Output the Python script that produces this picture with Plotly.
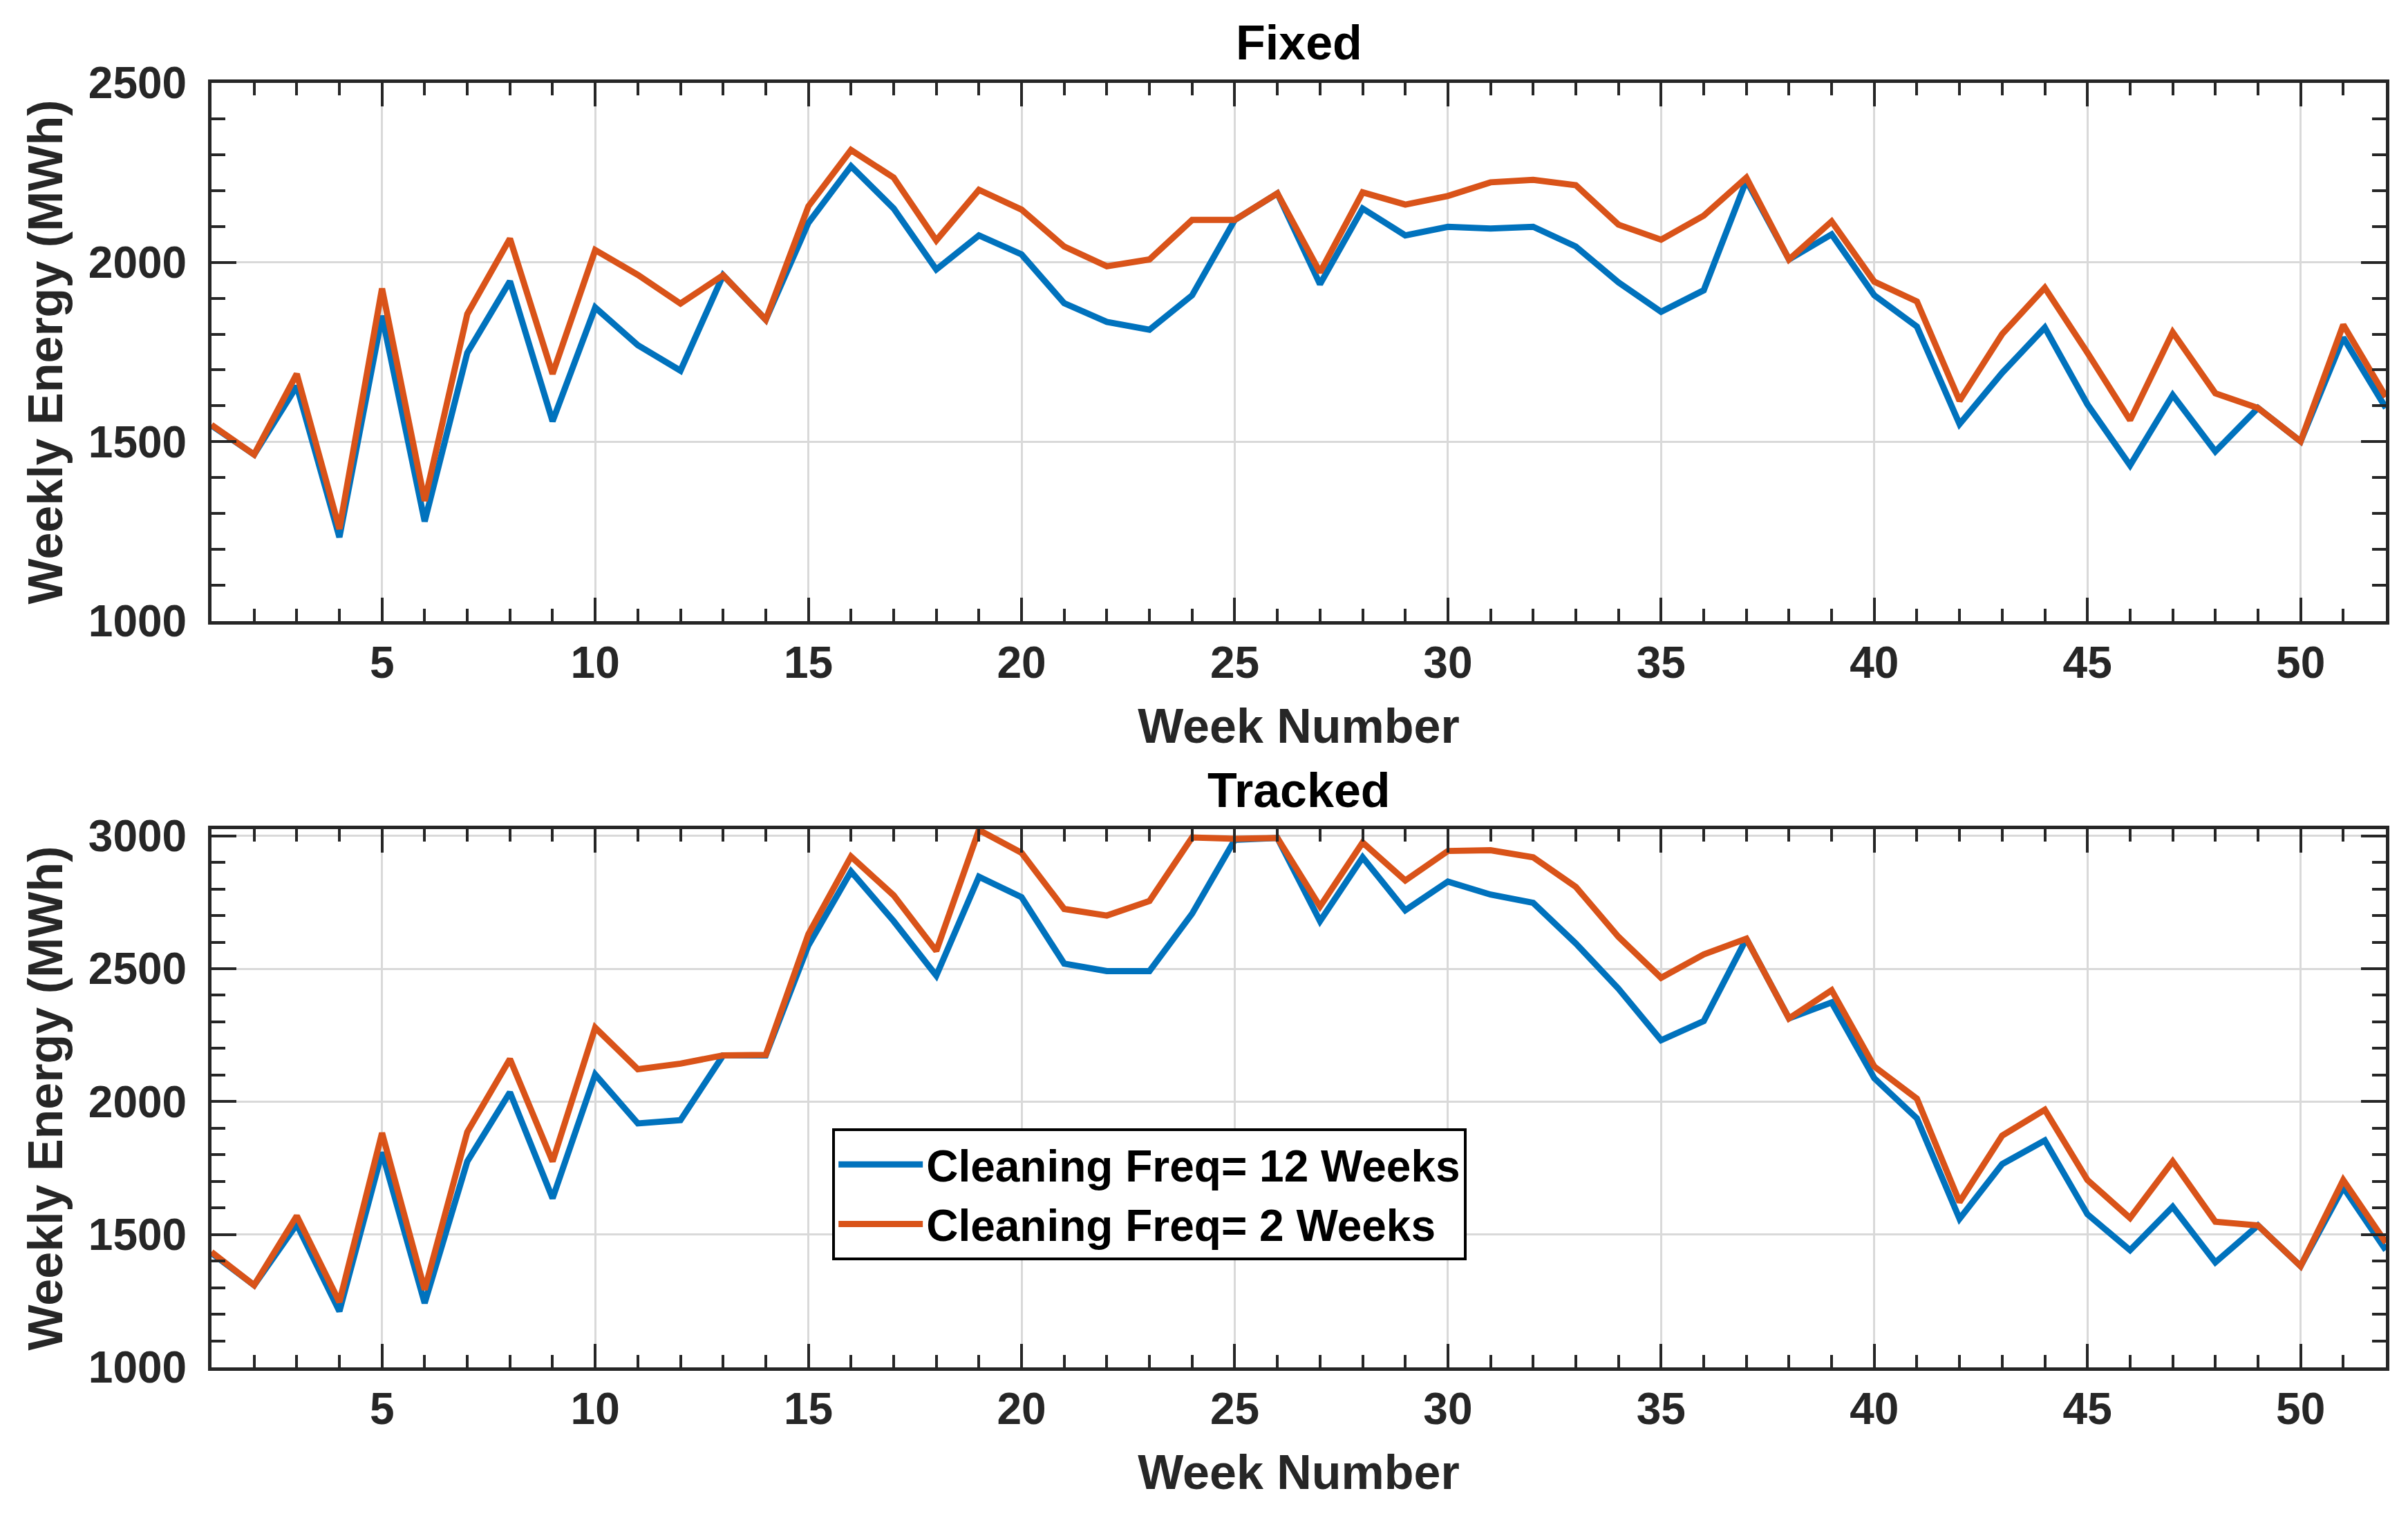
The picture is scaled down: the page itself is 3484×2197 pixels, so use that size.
import plotly.graph_objects as go

weeks = list(range(1, 53))

fixed_12 = [1545, 1464, 1655, 1234, 1851, 1278, 1748, 1947, 1557, 1874,
            1769, 1698, 1964, 1840, 2110, 2268, 2150, 1980, 2075, 2022,
            1886, 1834, 1812, 1908, 2118, 2192, 1939, 2150, 2075, 2099,
            2094, 2099, 2044, 1944, 1862, 1922, 2228, 2008, 2078, 1908,
            1821, 1549, 1692, 1818, 1604, 1434, 1630, 1473, 1594, 1501,
            1790, 1594]
fixed_2 = [1547, 1464, 1689, 1257, 1927, 1335, 1856, 2066, 1689, 2034,
           1965, 1885, 1964, 1840, 2156, 2313, 2236, 2061, 2202, 2147,
           2044, 1989, 2008, 2118, 2118, 2192, 1972, 2195, 2161, 2185,
           2223, 2230, 2215, 2105, 2063, 2130, 2236, 2008, 2114, 1946,
           1891, 1614, 1800, 1929, 1748, 1560, 1805, 1635, 1594, 1501,
           1826, 1625]
tracked_12 = [1430, 1309, 1538, 1211, 1809, 1242, 1775, 2035, 1636, 2102,
              1918, 1930, 2174, 2174, 2588, 2866, 2679, 2474, 2846, 2769,
              2519, 2491, 2491, 2707, 2985, 2992, 2679, 2919, 2720, 2828,
              2779, 2748, 2595, 2425, 2231, 2303, 2613, 2313, 2373, 2088,
              1937, 1559, 1765, 1854, 1576, 1441, 1604, 1395, 1534, 1381,
              1677, 1441]
tracked_2 = [1434, 1309, 1570, 1246, 1882, 1292, 1886, 2160, 1775, 2278,
             2122, 2143, 2174, 2176, 2630, 2922, 2776, 2567, 3022, 2936,
             2725, 2700, 2755, 2994, 2989, 2992, 2734, 2975, 2832, 2943,
             2946, 2919, 2808, 2620, 2466, 2554, 2613, 2313, 2419, 2132,
             2011, 1622, 1872, 1969, 1705, 1562, 1775, 1548, 1534, 1381,
             1705, 1469]

x_ticks = [5, 10, 15, 20, 25, 30, 35, 40, 45, 50]
panel_titles = ["Fixed", "Tracked"]
series_names = ["Cleaning Freq= 12 Weeks", "Cleaning Freq= 2 Weeks"]

BLUE = "#0072BD"
ORANGE = "#D95319"
FONT = "Liberation Sans, Arial, sans-serif"
TXT = "#262626"
LW = 9

fig = go.Figure()
fig.add_trace(go.Scatter(x=weeks, y=fixed_12, mode="lines", line=dict(color=BLUE, width=LW),
                         name=series_names[0], showlegend=False, xaxis="x", yaxis="y"))
fig.add_trace(go.Scatter(x=weeks, y=fixed_2, mode="lines", line=dict(color=ORANGE, width=LW),
                         name=series_names[1], showlegend=False, xaxis="x", yaxis="y"))
fig.add_trace(go.Scatter(x=weeks, y=tracked_12, mode="lines", line=dict(color=BLUE, width=LW),
                         name=series_names[0], xaxis="x2", yaxis="y2"))
fig.add_trace(go.Scatter(x=weeks, y=tracked_2, mode="lines", line=dict(color=ORANGE, width=LW),
                         name=series_names[1], xaxis="x2", yaxis="y2"))

def xax(anchor):
    return dict(range=[1, 52], tickvals=x_ticks, anchor=anchor,
                showline=True, linecolor=TXT, linewidth=5, mirror="ticks",
                ticks="inside", ticklen=34, tickwidth=4, tickcolor=TXT,
                minor=dict(dtick=1, tick0=0, ticks="inside", ticklen=18, tickwidth=4,
                           tickcolor=TXT, showgrid=False),
                showgrid=True, gridcolor="#D9D9D9", gridwidth=3, zeroline=False,
                tickfont=dict(family=FONT, size=64, color=TXT, weight="bold"),
                ticklabelstandoff=0,
                title=dict(text="Week Number", standoff=34,
                           font=dict(family=FONT, size=70, color=TXT, weight="bold")))

def yax(rng, domain, anchor):
    return dict(range=rng, domain=domain, dtick=500, tick0=0, anchor=anchor,
                showline=True, linecolor=TXT, linewidth=5, mirror="ticks",
                ticks="inside", ticklen=36, tickwidth=4, tickcolor=TXT,
                minor=dict(dtick=100, tick0=0, ticks="inside", ticklen=20, tickwidth=4,
                           tickcolor=TXT, showgrid=False),
                showgrid=True, gridcolor="#D9D9D9", gridwidth=3, zeroline=False,
                tickfont=dict(family=FONT, size=64, color=TXT, weight="bold"),
                ticklabelstandoff=18,
                title=dict(text="Weekly Energy (MWh)", standoff=16,
                           font=dict(family=FONT, size=70, color=TXT, weight="bold")))

fig.update_layout(
    width=3484, height=2197,
    margin=dict(l=298, r=40, t=112, b=226),
    paper_bgcolor="white", plot_bgcolor="white",
    xaxis=xax("y"), xaxis2=xax("y2"),
    yaxis=yax([1000, 2500], [0.581, 1.0], "x"),
    yaxis2=yax([1000, 3025], [0.0, 0.419], "x2"),
    legend=dict(x=0.2855, y=0.186, xanchor="left", yanchor="top",
                bgcolor="white", bordercolor="#000000", borderwidth=4,
                font=dict(family=FONT, size=64, color="#000000", weight="bold"),
                itemwidth=122, tracegroupgap=0),
    annotations=[
        dict(text=panel_titles[0], xref="x domain", yref="y domain", x=0.5, y=1,
             yanchor="middle", yshift=58, showarrow=False,
             font=dict(family=FONT, size=70, color="#000000", weight="bold")),
        dict(text=panel_titles[1], xref="x2 domain", yref="y2 domain", x=0.5, y=1,
             yanchor="middle", yshift=56, showarrow=False,
             font=dict(family=FONT, size=70, color="#000000", weight="bold")),
    ],
)

fig.write_html("out.html")
